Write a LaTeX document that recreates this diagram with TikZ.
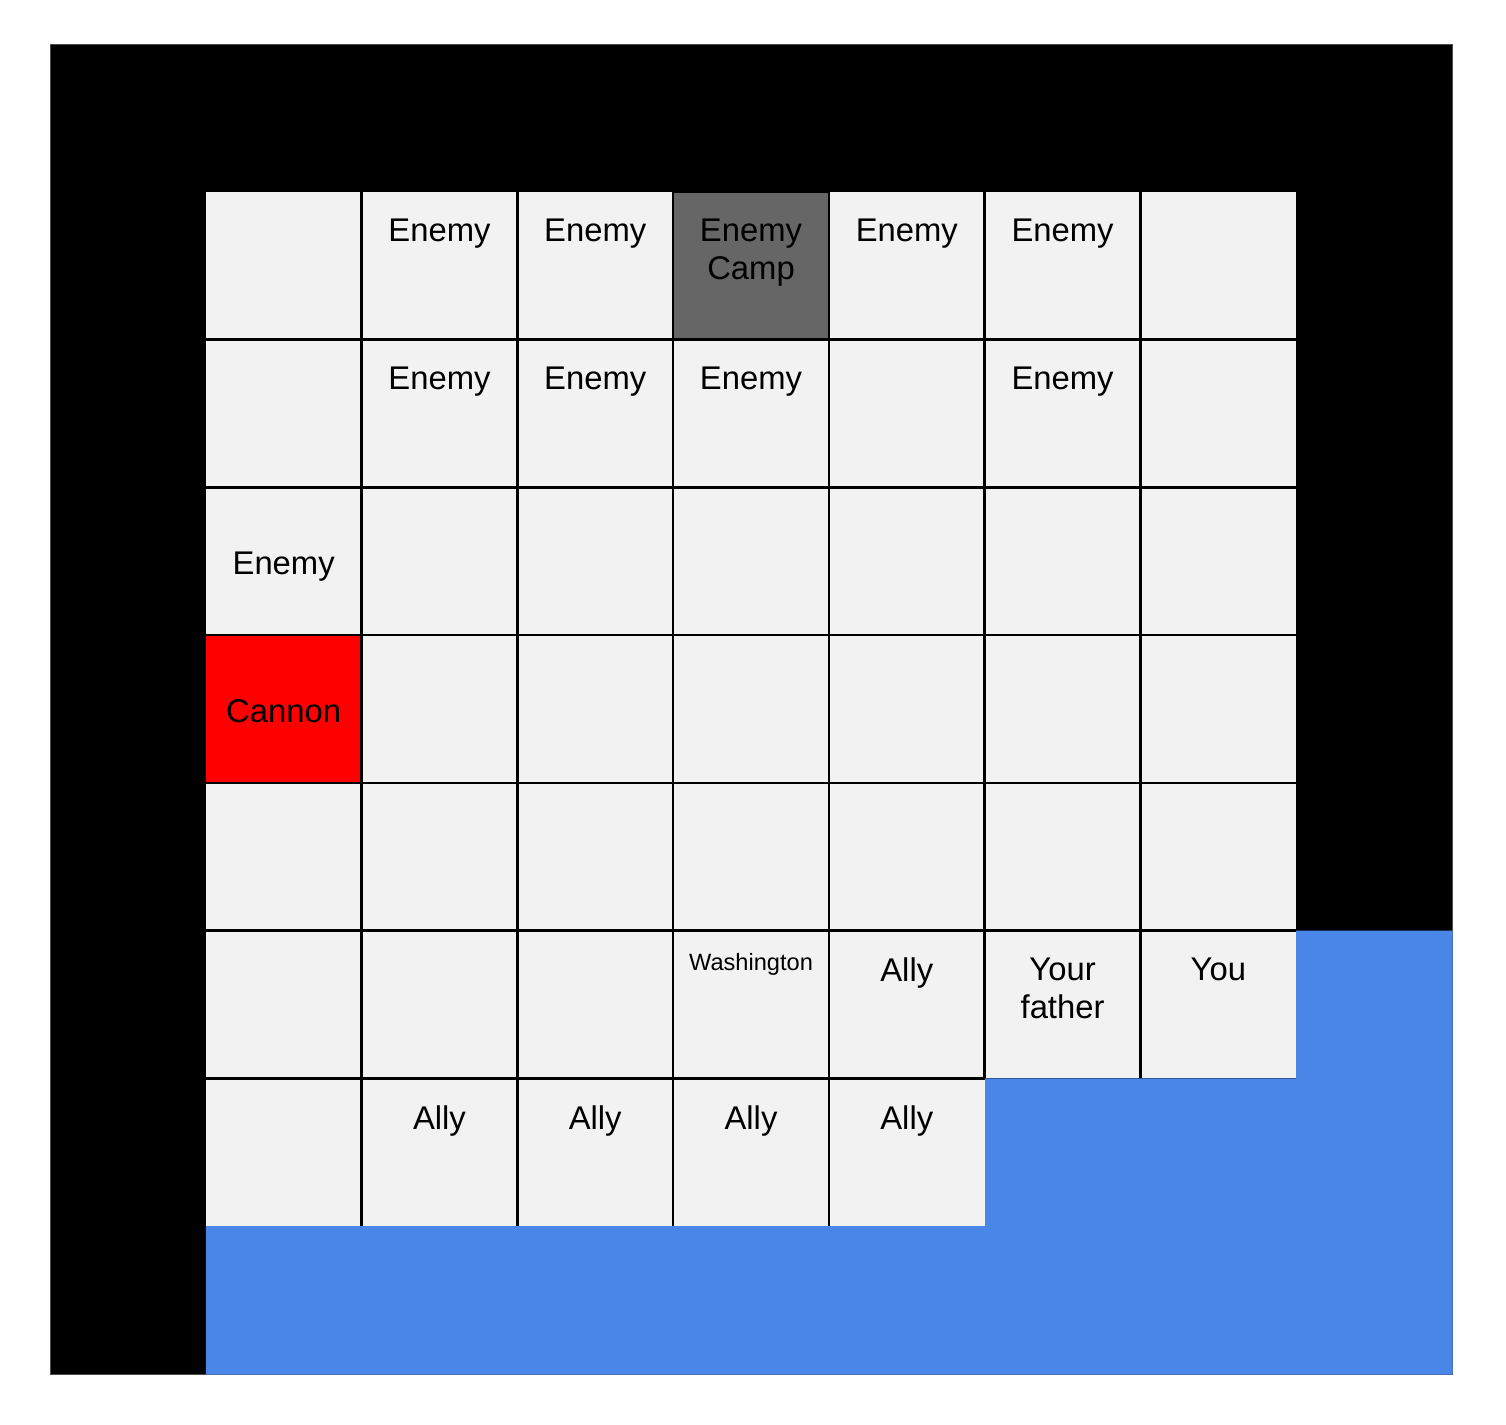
\documentclass[tikz,border=0pt]{standalone}
\usepackage{fontspec}
\setmainfont{Liberation Sans}
\definecolor{cellgray}{HTML}{F2F2F2}
\definecolor{campgray}{HTML}{666666}
\definecolor{water}{HTML}{4A86E8}
\begin{document}
\begin{tikzpicture}[x=0.5pt,y=-0.5pt,
  cellbox/.style={fill=cellgray, minimum width=77.89pt, minimum height=73.89pt, inner sep=0pt, outer sep=0pt, anchor=north west},
  cell14/.style={fill=campgray},
  cell41/.style={fill=red},
  gridline/.style={line width=1.2pt, black},
  lbl/.style={font=\fontsize{16.4}{19}\selectfont, inner sep=0pt, align=center},
  toplbl/.style={lbl, anchor=north, yshift=-13.3pt},
  small/.style={font=\fontsize{11.8}{14}\selectfont, inner sep=0pt}]
\useasboundingbox (0,0) rectangle (1506,1425);
% outer frame (black)
\fill[black] (50,44) rectangle (1452,1374);
\draw[line width=0.5pt, black!70] (50,44) rectangle (1452,1374);
% water (blue)
\fill[water] (205.8,1226.2) -- (984.7,1226.2) -- (984.7,1078.4) -- (1296.2,1078.4) -- (1296.2,930.7) -- (1452.6,930.7) -- (1452.6,1374.6) -- (205.8,1374.6) -- cycle;
% cells
\foreach \r in {1,...,7}{
  \foreach \c in {1,...,7}{
    \pgfmathtruncatemacro\skipcell{(\r==7 && \c>5) ? 1 : 0}
    \ifnum\skipcell=0
      \node[cellbox, cell\r\c/.try] (c\r\c) at ({50+\c*155.78},{44+\r*147.78}) {};
    \fi
  }
}
% grid lines
\foreach \c in {2,...,5}{\draw[gridline] ({50+\c*155.78},191.8) -- ({50+\c*155.78},1226.2);}
\foreach \c in {6,7}{\draw[gridline] ({50+\c*155.78},191.8) -- ({50+\c*155.78},1078.4);}
\foreach \r in {2,...,6}{\draw[gridline] (205.8,{44+\r*147.78}) -- (1296.2,{44+\r*147.78});}
\draw[gridline] (205.8,1078.4) -- (984.7,1078.4);
\draw[gridline] (673.1,191.8) -- (828.9,191.8);
% labels, row 1
\foreach \c in {2,3,5,6}{\node[toplbl] (e1\c) at (c1\c.north) {Enemy};}
\node[toplbl] (campl) at (c14.north) {Enemy\\Camp};
% row 2
\foreach \c in {2,3,4,6}{\node[toplbl] (e2\c) at (c2\c.north) {Enemy};}
% row 3, 4
\node[lbl, yshift=-2.5pt] (e31) at (c31.center) {Enemy};
\node[lbl, yshift=-1pt] (cannon) at (c41.center) {Cannon};
% row 6
\node[small, anchor=north, yshift=-11.3pt] (wash) at (c64.north) {Washington};
\node[toplbl] (a65) at (c65.north) {Ally};
\node[toplbl] (father) at (c66.north) {Your\\father};
\node[toplbl] (you) at (c67.north) {You};
% row 7
\foreach \c in {2,...,5}{\node[toplbl] (a7\c) at (c7\c.north) {Ally};}
\end{tikzpicture}
\end{document}
